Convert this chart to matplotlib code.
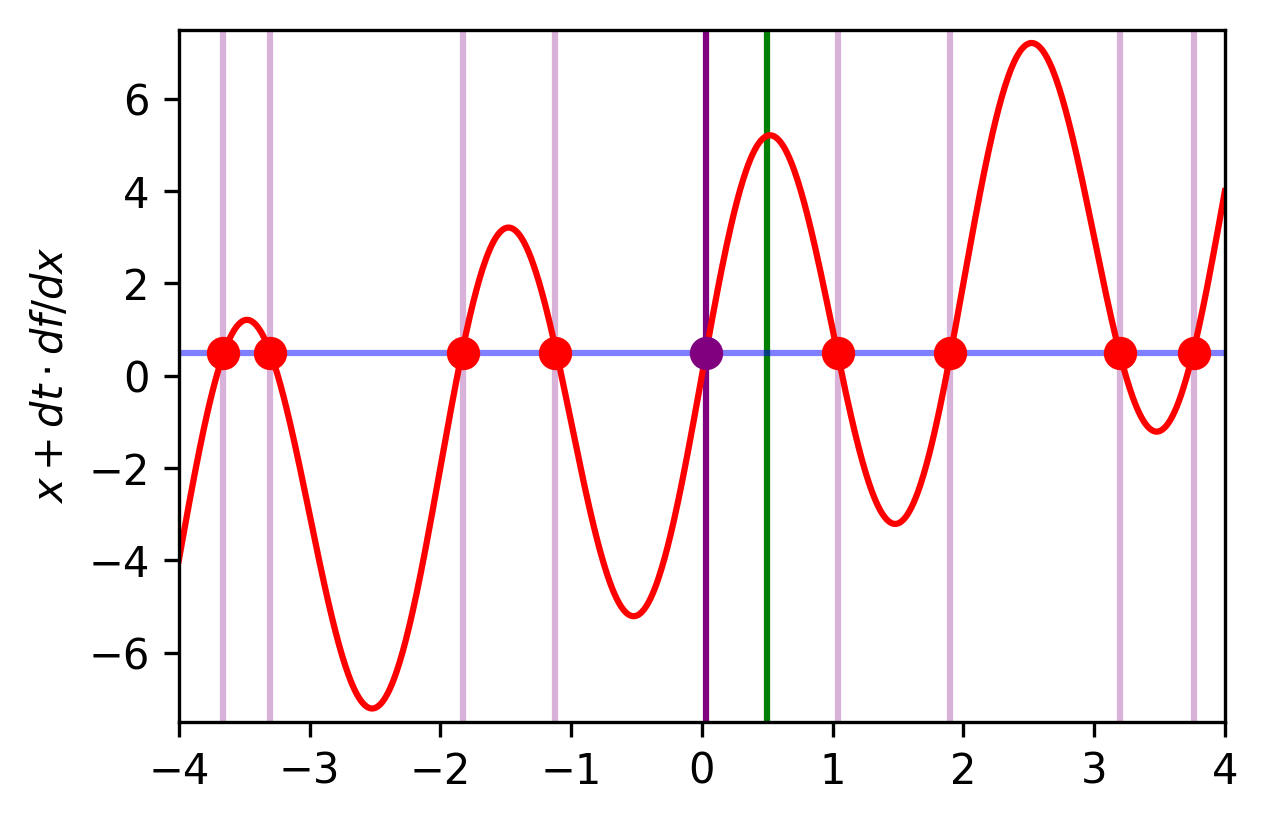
import numpy as np
import matplotlib
matplotlib.use('Agg')
import matplotlib.pyplot as plt

# curve: y = x + amp * sin(pi * x)
amp = 4.7
xmin, xmax = -4, 4
level = 0.5

# crossings with the horizontal level
roots = [-3.66, -3.30, -1.83, -1.12, 1.04, 1.90, 3.20, 3.76]
chosen = 0.03
target = 0.5

x = np.linspace(xmin, xmax, 1000)
y = x + amp * np.sin(np.pi * x)

fig = plt.figure(figsize=(1268 / 300, 824 / 300), dpi=300)
ax = fig.add_axes([0.141, 0.124, 0.825, 0.840])

for r in roots:
    ax.axvline(r, color='purple', alpha=0.3, lw=1.5)
ax.axvline(chosen, color='purple', lw=1.5)
ax.axvline(target, color='green', lw=1.5)
ax.axhline(level, color='blue', alpha=0.5, lw=1.5)
ax.plot(x, y, color='red', lw=1.5)
ax.plot(roots, [level] * len(roots), 'o', color='red', ms=7)
ax.plot([chosen], [level], 'o', color='purple', ms=7)

ax.set_xlim(xmin, xmax)
ax.set_ylim(-7.5, 7.5)
ax.set_yticks([-6, -4, -2, 0, 2, 4, 6])
ax.set_ylabel(r'$x + dt \cdot df/dx$')

fig.savefig('out.png', dpi=300)
